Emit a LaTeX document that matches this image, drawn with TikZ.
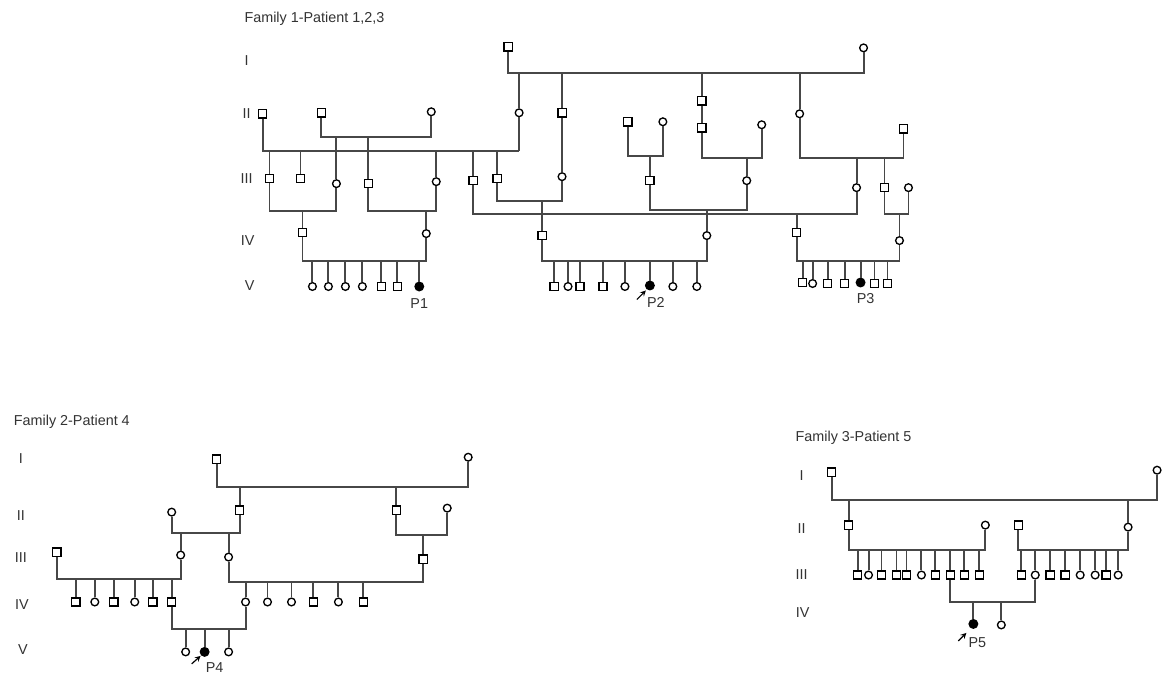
\documentclass[tikz,border=0pt]{standalone}
\usepackage{fontspec}
\setmainfont{Liberation Sans}
\usepackage{tikz}
\usetikzlibrary{shapes,arrows}

\begin{document}
\begin{tikzpicture}[
                    x=0.75pt, y=-0.75pt,
                    male/.style={draw=black, line width=1pt, rectangle, fill=white, inner sep=0pt, minimum size=6.2pt},
                    fem/.style={draw=black, line width=1pt, circle, fill=white, inner sep=0pt, minimum size=5.8pt},
                    aff/.style={draw=black, line width=1pt, circle, fill=black, inner sep=0pt, minimum size=6.4pt},
                    gen/.style={font=\fontsize{10.8}{12}\selectfont, text=black!80, inner sep=0pt},
                    every path/.style={line width=1.45pt, draw=black!72}
                ]
                    \useasboundingbox (0,0) rectangle (1167,680);
                    \fill[white] (0,0) rectangle (1167,680);

                    \node (label1) [gen, anchor=west] at (243,18) {Family 1-Patient 1,2,3};
                    \node (label2) [gen, anchor=west] at (12,422) {Family 2-Patient 4};
                    \node (label3) [gen, anchor=west] at (795,438) {Family 3-Patient 5};

                    \node[gen] (ga1) at (246,60) {I};
                    \node[gen] (ga2) at (246,113) {II};
                    \node[gen] (ga3) at (246,178) {III};
                    \node[gen] (ga4) at (247,240) {IV};
                    \node[gen] (ga5) at (249,285) {V};
                    \node[gen] (gb1) at (20,458) {I};
                    \node[gen] (gb2) at (20,515) {II};
                    \node[gen] (gb3) at (20,557) {III};
                    \node[gen] (gb4) at (21,605) {IV};
                    \node[gen] (gb5) at (22,650) {V};
                    \node[gen] (gc1) at (802,475) {I};
                    \node[gen] (gc2) at (802,528) {II};
                    \node[gen] (gc3) at (802,575) {III};
                    \node[gen] (gc4) at (803,613) {IV};

                    \coordinate (m1) at (0,72);
                    \coordinate (m2) at (0,150);
                    \coordinate (m3) at (0,136);
                    \coordinate (m4) at (0,210);
                    \coordinate (m5) at (0,260);
                    \coordinate (m6) at (0,200);
                    \coordinate (m7) at (0,213);
                    \coordinate (m8) at (0,157);
                    \coordinate (m9) at (0,155);
                    \coordinate (m10) at (0,209);

                    \node[male] (a1) at (508,46) {};
                    \node[fem] (a2) at (864,47) {};
                    \node[male] (a3) at (262,113) {};
                    \node[male] (a4) at (321,112) {};
                    \node[fem] (a5) at (431,111) {};
                    \node[fem] (a6) at (519,112) {};
                    \node[male] (a7) at (562,112) {};
                    \node[male] (a8) at (702,100) {};
                    \node[male] (a9) at (702,127) {};
                    \node[male] (a10) at (628,121) {};
                    \node[fem] (a11) at (663,121) {};
                    \node[fem] (a12) at (762,124) {};
                    \node[fem] (a13) at (800,113) {};
                    \node[male] (a14) at (904,128) {};
                    \node[male] (a15) at (269,178) {};
                    \node[male] (a16) at (300,178) {};
                    \node[fem] (a17) at (336,183) {};
                    \node[male] (a18) at (368,183) {};
                    \node[fem] (a19) at (436,181) {};
                    \node[male] (a20) at (473,180) {};
                    \node[male] (a21) at (497,178) {};
                    \node[fem] (a22) at (562,176) {};
                    \node[male] (a23) at (650,180) {};
                    \node[fem] (a24) at (747,180) {};
                    \node[fem] (a25) at (857,187) {};
                    \node[male] (a26) at (885,187) {};
                    \node[fem] (a27) at (909,187) {};
                    \node[male] (a28) at (302,232) {};
                    \node[fem] (a29) at (426,233) {};
                    \node[male] (a30) at (542,235) {};
                    \node[fem] (a31) at (707,235) {};
                    \node[male] (a32) at (797,232) {};
                    \node[fem] (a33) at (900,240) {};
                    \node[fem] (a34) at (312,286) {};
                    \node[fem] (a35) at (328,286) {};
                    \node[fem] (a36) at (345,286) {};
                    \node[fem] (a37) at (362,286) {};
                    \node[male] (a38) at (381,286) {};
                    \node[male] (a39) at (397,286) {};
                    \node[aff] (a40) at (419,286) {};
                    \node[male] (a41) at (554,286) {};
                    \node[fem] (a42) at (568,286) {};
                    \node[male] (a43) at (580,286) {};
                    \node[male] (a44) at (603,286) {};
                    \node[fem] (a45) at (625,286) {};
                    \node[aff] (a46) at (650,285) {};
                    \node[fem] (a47) at (673,286) {};
                    \node[fem] (a48) at (697,286) {};
                    \node[male] (a49) at (803,282) {};
                    \node[fem] (a50) at (813,283) {};
                    \node[male] (a51) at (828,283) {};
                    \node[male] (a52) at (845,283) {};
                    \node[aff] (a53) at (861,282) {};
                    \node[male] (a54) at (875,283) {};
                    \node[male] (a55) at (888,283) {};

                    \draw (a1) |- (a2 |- m1) -- (a2);
                    \draw (a6 |- m1) -- (a6) -- (a6 |- m2);
                    \draw (a7 |- m1) -- (a7) -- (a22);
                    \draw (a8 |- m1) -- (a8) -- (a9);
                    \draw (a13 |- m1) -- (a13);
                    \draw (a3) |- (a6 |- m2);
                    \draw (a4) |- (a5 |- m3) -- (a5);
                    \draw (a9) |- (a12 |- m8) -- (a12);
                    \draw (a13) |- (a14 |- m8) -- (a14);
                    \draw (a10) |- (a11 |- m9) -- (a11);
                    \draw (a15 |- m2) -- (a15);
                    \draw (a16 |- m2) -- (a16);
                    \draw (a19 |- m2) -- (a19);
                    \draw (a20 |- m2) -- (a20);
                    \draw (a21 |- m2) -- (a21);
                    \draw (a17 |- m3) -- (a17);
                    \draw (a18 |- m3) -- (a18);
                    \draw (a23 |- m9) -- (a23);
                    \draw (a24 |- m8) -- (a24);
                    \draw (a25 |- m8) -- (a25);
                    \draw (a26 |- m8) -- (a26);
                    \draw (a15) |- (a17 |- m4) -- (a17);
                    \draw (a18) |- (a19 |- m4) -- (a19);
                    \draw (a21) |- (a22 |- m6) -- (a22);
                    \draw (a20) |- (a25 |- m7) -- (a25);
                    \draw (a23) |- (a24 |- m10) -- (a24);
                    \draw (a26) |- (a27 |- m7) -- (a27);
                    \draw (a28 |- m4) -- (a28);
                    \draw (a29 |- m4) -- (a29);
                    \draw (a30 |- m6) -- (a30);
                    \draw (a31 |- m10) -- (a31);
                    \draw (a32 |- m7) -- (a32);
                    \draw (a33 |- m7) -- (a33);
                    \draw (a28) |- (a29 |- m5) -- (a29);
                    \draw (a30) |- (a31 |- m5) -- (a31);
                    \draw (a32) |- (a33 |- m5) -- (a33);
                    \draw (a34 |- m5) -- (a34) (a35 |- m5) -- (a35) (a36 |- m5) -- (a36) (a37 |- m5) -- (a37)
                          (a38 |- m5) -- (a38) (a39 |- m5) -- (a39) (a40 |- m5) -- (a40);
                    \draw (a41 |- m5) -- (a41) (a42 |- m5) -- (a42) (a43 |- m5) -- (a43) (a44 |- m5) -- (a44)
                          (a45 |- m5) -- (a45) (a46 |- m5) -- (a46) (a47 |- m5) -- (a47) (a48 |- m5) -- (a48);
                    \draw (a49 |- m5) -- (a49) (a50 |- m5) -- (a50) (a51 |- m5) -- (a51) (a52 |- m5) -- (a52)
                          (a53 |- m5) -- (a53) (a54 |- m5) -- (a54) (a55 |- m5) -- (a55);

                    \node[gen] (t1) at (419,303) {P1};
                    \node[gen] (t2) at (656,302) {P2};
                    \node[gen] (t3) at (866,298) {P3};
                    \coordinate (r2) at (637,299);
                    \draw[->, >=stealth, line width=0.9pt, draw=black] (r2) -- ++(9,-9);

                    \coordinate (n1) at (0,487);
                    \coordinate (n2) at (0,533);
                    \coordinate (n3) at (0,535);
                    \coordinate (n4) at (0,579);
                    \coordinate (n5) at (0,582);
                    \coordinate (n6) at (0,629);

                    \node[male] (b1) at (216,459) {};
                    \node[fem] (b2) at (468,457) {};
                    \node[male] (b3) at (239,510) {};
                    \node[male] (b4) at (396,510) {};
                    \node[fem] (b5) at (171,512) {};
                    \node[fem] (b6) at (447,508) {};
                    \node[fem] (b7) at (180,555) {};
                    \node[fem] (b8) at (228,557) {};
                    \node[male] (b9) at (423,559) {};
                    \node[male] (b10) at (56,552) {};
                    \node[male] (b11) at (75,602) {};
                    \node[fem] (b12) at (94,602) {};
                    \node[male] (b13) at (113,602) {};
                    \node[fem] (b14) at (134,602) {};
                    \node[male] (b15) at (152,602) {};
                    \node[male] (b16) at (171,602) {};
                    \node[fem] (b17) at (245,602) {};
                    \node[fem] (b18) at (267,602) {};
                    \node[fem] (b19) at (291,602) {};
                    \node[male] (b20) at (313,602) {};
                    \node[fem] (b21) at (338,602) {};
                    \node[male] (b22) at (363,602) {};
                    \node[fem] (b23) at (185,652) {};
                    \node[aff] (b24) at (204,652) {};
                    \node[fem] (b25) at (228,652) {};

                    \draw (b1) |- (b2 |- n1) -- (b2);
                    \draw (b3 |- n1) -- (b3);
                    \draw (b4 |- n1) -- (b4);
                    \draw (b3) |- (b5 |- n2) -- (b5);
                    \draw (b4) |- (b6 |- n3) -- (b6);
                    \draw (b7 |- n2) -- (b7);
                    \draw (b8 |- n2) -- (b8);
                    \draw (b9 |- n3) -- (b9);
                    \draw (b10) |- (b7 |- n4) -- (b7);
                    \draw (b8) |- (b9 |- n5) -- (b9);
                    \draw (b11 |- n4) -- (b11) (b12 |- n4) -- (b12) (b13 |- n4) -- (b13)
                          (b14 |- n4) -- (b14) (b15 |- n4) -- (b15) (b16 |- n4) -- (b16);
                    \draw (b17 |- n5) -- (b17) (b18 |- n5) -- (b18) (b19 |- n5) -- (b19)
                          (b20 |- n5) -- (b20) (b21 |- n5) -- (b21) (b22 |- n5) -- (b22);
                    \draw (b16) |- (b17 |- n6) -- (b17);
                    \draw (b23 |- n6) -- (b23) (b24 |- n6) -- (b24) (b25 |- n6) -- (b25);

                    \node[gen] (t4) at (214,668) {P4};
                    \coordinate (r4) at (191,664);
                    \draw[->, >=stealth, line width=0.9pt, draw=black] (r4) -- ++(9,-8);

                    \coordinate (p1) at (0,500);
                    \coordinate (p2) at (0,550);
                    \coordinate (p3) at (0,602);

                    \node[male] (c1) at (832,472) {};
                    \node[fem] (c2) at (1158,470) {};
                    \node[male] (c3) at (849,525) {};
                    \node[fem] (c4) at (1129,527) {};
                    \node[fem] (c5) at (986,525) {};
                    \node[male] (c6) at (1019,525) {};
                    \node[male] (c7) at (858,575) {};
                    \node[fem] (c8) at (869,575) {};
                    \node[male] (c9) at (882,575) {};
                    \node[male] (c10) at (897,575) {};
                    \node[male] (c11) at (907,575) {};
                    \node[fem] (c12) at (922,575) {};
                    \node[male] (c13) at (936,575) {};
                    \node[male] (c14) at (951,575) {};
                    \node[male] (c15) at (965,575) {};
                    \node[male] (c16) at (980,575) {};
                    \node[male] (c17) at (1022,575) {};
                    \node[fem] (c18) at (1036,575) {};
                    \node[male] (c19) at (1051,575) {};
                    \node[male] (c20) at (1066,575) {};
                    \node[fem] (c21) at (1081,575) {};
                    \node[fem] (c22) at (1096,575) {};
                    \node[male] (c23) at (1107,575) {};
                    \node[fem] (c24) at (1119,575) {};
                    \node[aff] (c25) at (974,624) {};
                    \node[fem] (c26) at (1002,625) {};

                    \draw (c1) |- (c2 |- p1) -- (c2);
                    \draw (c3 |- p1) -- (c3);
                    \draw (c4 |- p1) -- (c4);
                    \draw (c3) |- (c5 |- p2) -- (c5);
                    \draw (c6) |- (c4 |- p2) -- (c4);
                    \draw (c7 |- p2) -- (c7) (c8 |- p2) -- (c8) (c9 |- p2) -- (c9) (c10 |- p2) -- (c10)
                          (c11 |- p2) -- (c11) (c12 |- p2) -- (c12) (c13 |- p2) -- (c13) (c14 |- p2) -- (c14)
                          (c15 |- p2) -- (c15) (c16 |- p2) -- (c16);
                    \draw (c17 |- p2) -- (c17) (c18 |- p2) -- (c18) (c19 |- p2) -- (c19) (c20 |- p2) -- (c20)
                          (c21 |- p2) -- (c21) (c22 |- p2) -- (c22) (c23 |- p2) -- (c23) (c24 |- p2) -- (c24);
                    \draw (c14) |- (c18 |- p3) -- (c18);
                    \draw (c25 |- p3) -- (c25) (c26 |- p3) -- (c26);

                    \node[gen] (t5) at (978,643) {P5};
                    \coordinate (r5) at (959,641);
                    \draw[->, >=stealth, line width=0.9pt, draw=black] (r5) -- ++(8,-8);
                \end{tikzpicture}
\end{document}
